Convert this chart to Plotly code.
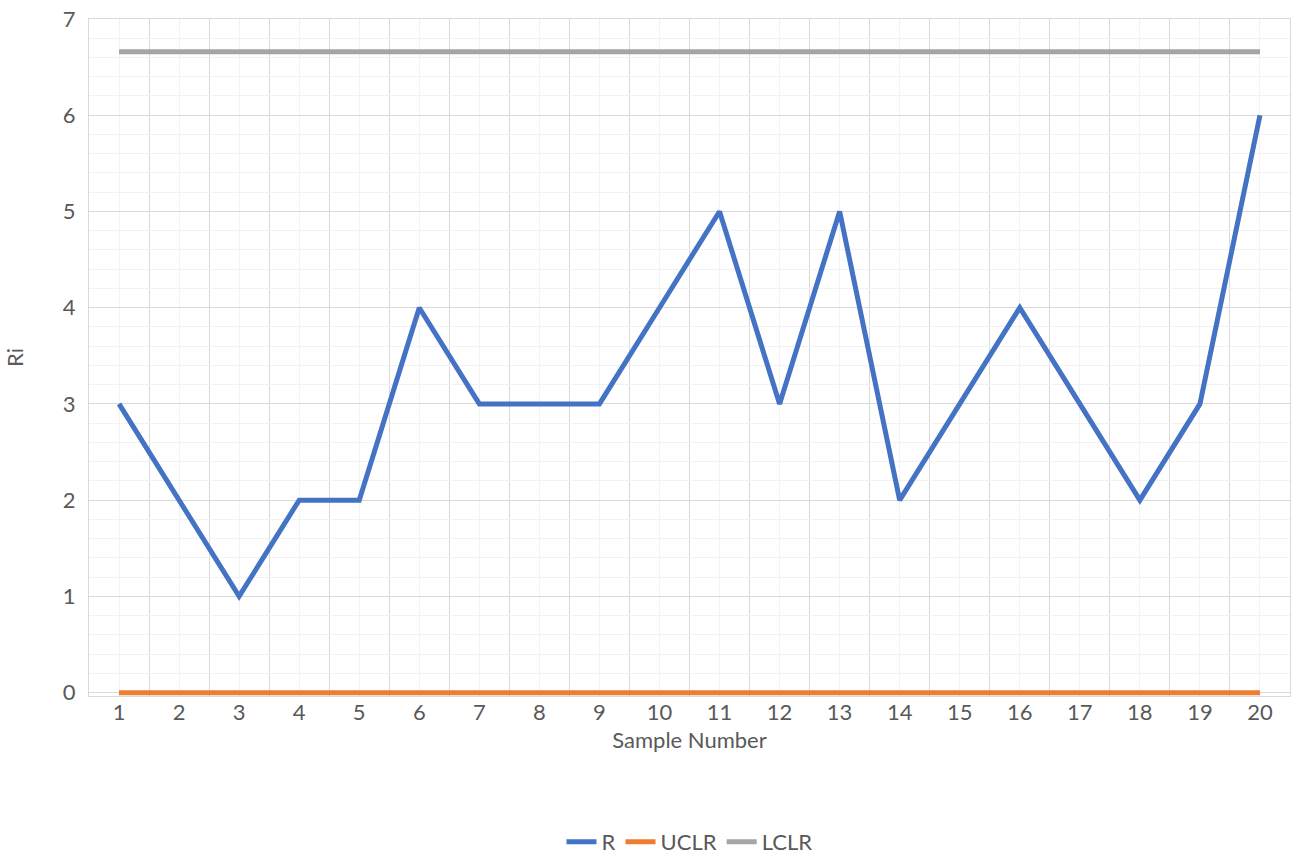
import plotly.graph_objects as go

# Range chart data
samples = list(range(1, 21))
r_values = [3, 2, 1, 2, 2, 4, 3, 3, 3, 4, 5, 3, 5, 2, 3, 4, 3, 2, 3, 6]
uclr_values = [0] * 20
lclr_values = [6.659] * 20

FONT = "Lato"
TEXT = "#595959"
MAJOR = "#d9d9d9"
MINOR = "#f2f2f2"
FS = 22

fig = go.Figure()
series = [
    ("R", r_values, "#4472c4"),
    ("UCLR", uclr_values, "#ed7d31"),
    ("LCLR", lclr_values, "#a5a5a5"),
]
for name, vals, color in series:
    fig.add_trace(go.Scatter(
        x=samples, y=vals, name=name, mode="lines",
        line=dict(color=color, width=5),
        cliponaxis=False,
    ))

fig.update_layout(
    width=1297, height=863,
    margin=dict(l=89, r=7, t=18.5, b=166.6),
    paper_bgcolor="white", plot_bgcolor="white",
    font=dict(family=FONT, size=FS, color=TEXT),
    showlegend=True,
    legend=dict(orientation="h", x=0.5, xanchor="center",
                yref="container", y=-0.008, yanchor="bottom",
                font=dict(size=FS, color=TEXT), traceorder="normal",
                itemwidth=30),
    xaxis=dict(
        range=[0.5, 20.5], tickmode="array", tickvals=samples,
        ticktext=[str(s) for s in samples],
        showgrid=True, gridcolor=MINOR, gridwidth=1,
        minor=dict(tickvals=[s + 0.5 for s in range(0, 21)], showgrid=True,
                   gridcolor=MAJOR, gridwidth=1, ticks=""),
        showline=True, linecolor=MAJOR, mirror=True, zeroline=False,
        ticks="", ticklabelstandoff=-3, automargin=False,
        title=dict(text="Sample Number", font=dict(size=FS, color=TEXT), standoff=8),
    ),
    yaxis=dict(
        range=[-0.035, 7], tickmode="array", tickvals=list(range(0, 8)),
        showgrid=True, gridcolor=MAJOR, gridwidth=1,
        minor=dict(tick0=0, dtick=0.2, showgrid=True, gridcolor=MINOR, gridwidth=1, ticks=""),
        showline=True, linecolor=MAJOR, mirror=True, zeroline=False,
        ticks="", ticklabelstandoff=8, automargin=False,
        title=dict(text="Ri", font=dict(size=FS, color=TEXT), standoff=33),
    ),
)

fig.write_html("out.html")
